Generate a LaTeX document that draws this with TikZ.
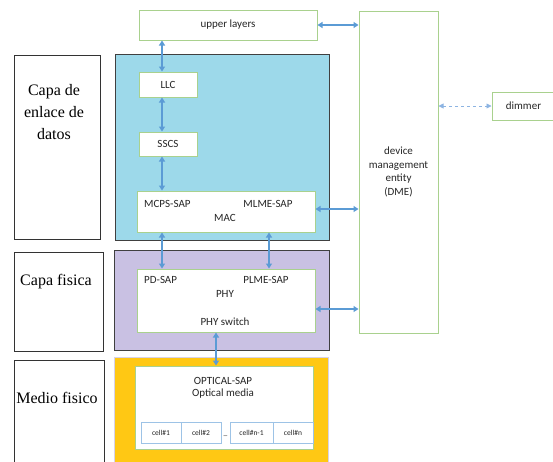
\documentclass[tikz,border=0pt]{standalone}
\usepackage{fontspec}
\setmainfont{Carlito}
\newfontfamily\capafont{Liberation Serif}
\usetikzlibrary{arrows.meta,positioning}

\definecolor{grnline}{HTML}{A9D18E}
\definecolor{arrblue}{HTML}{5B9BD5}
\definecolor{dashblue}{HTML}{8DB4E2}
\definecolor{cellline}{HTML}{9DC3E6}
\definecolor{dllfill}{HTML}{9DD9EA}
\definecolor{phyfill}{HTML}{C9C1E3}
\definecolor{medfill}{HTML}{FFC814}
\definecolor{medline}{HTML}{D6D2EA}
\definecolor{txtgray}{HTML}{262626}

\begin{document}
\begin{tikzpicture}[x=1pt, y=-1pt,
    caja/.style={draw=grnline, fill=white, line width=1pt, inner sep=0pt, align=center,
      text=txtgray, font=\fontsize{11}{13.5}\selectfont},
    capa/.style={draw=black!80, fill=white, line width=0.8pt, inner sep=0pt},
    capatxt/.style={align=center, font=\capafont\fontsize{16}{22}\selectfont},
    layer/.style={draw=black!75, line width=1pt, inner sep=0pt},
    txt/.style={inner sep=0pt, text=txtgray, font=\fontsize{11}{13.5}\selectfont},
    cell/.style={draw=cellline, fill=white, line width=1pt, inner sep=0pt,
      minimum width=40pt, minimum height=21pt, text=txtgray, font=\fontsize{7.5}{9}\selectfont},
    arr/.style={{Triangle[length=5pt,width=6pt]}-{Triangle[length=5pt,width=6pt]}, draw=arrblue, line width=1.6pt},
    darr/.style={{Triangle[length=5pt,width=5pt]}-{Triangle[length=5pt,width=5pt]}, draw=dashblue, line width=0.8pt, dashed}]
    \useasboundingbox (0,0) rectangle (553,461);

    % left column
    \node[capa, minimum width=86pt, minimum height=184pt] (capa1) at (57,147) {};
    \node[capa, minimum width=89pt, minimum height=99pt] (capa2) at (58.5,301.5) {};
    \node[capa, minimum width=90pt, minimum height=112pt] (capa3) at (59,416) {};
    \node[capatxt] (t1) at (54,112) {Capa de\\enlace de\\datos};
    \node[capatxt] (t2) at (56,282) {Capa fisica};
    \node[capatxt] (t3) at (57,398) {Medio fisico};

    % layers
    \node[layer, fill=dllfill, minimum width=214pt, minimum height=186pt] (dll) at (222,147) {};
    \node[layer, fill=phyfill, minimum width=215pt, minimum height=100pt] (phyl) at (221.5,300) {};
    \node[layer, draw=medline, fill=medfill, minimum width=214pt, minimum height=113pt] (med) at (221,413.5) {};

    % boxes
    \node[caja, minimum width=178pt, minimum height=30pt] (up) at (228,25) {upper layers};
    \node[caja, minimum width=58pt, minimum height=25pt] (llc) at (168,84.5) {LLC};
    \node[caja, minimum width=58pt, minimum height=24pt] (sscs) at (168,144) {SSCS};
    \node[caja, minimum width=178pt, minimum height=41pt] (mac) at (226,211.5) {};
    \node[caja, minimum width=178pt, minimum height=63pt] (phy) at (226,300.5) {};
    \node[caja, minimum width=178pt, minimum height=83pt] (opt) at (224,407.5) {};
    \node[caja, minimum width=79pt, minimum height=322pt] (dme) at (398.5,172) {device\\management\\entity\\(DME)};
    \node[caja, minimum width=63pt, minimum height=28pt] (dim) at (523.5,106) {dimmer};

    % texts in MAC / PHY / optical
    \node[txt, anchor=west] (mcps) at (144,204) {MCPS-SAP};
    \node[txt] (mlme) at (268,204) {MLME-SAP};
    \node[txt] (mact) at (225,218) {MAC};
    \node[txt, anchor=west] (pdsap) at (144,280) {PD-SAP};
    \node[txt] (plme) at (266,280) {PLME-SAP};
    \node[txt] (phyt) at (225,294) {PHY};
    \node[txt] (physw) at (225,322) {PHY switch};
    \node[txt] (osap) at (223,381) {OPTICAL-SAP};
    \node[txt] (omed) at (223,394) {Optical media};

    % cells
    \node[cell] (c1) at (161,432.5) {cell\#1};
    \node[cell] (c2) at (201,432.5) {cell\#2};
    \node[cell, minimum width=43pt] (cn1) at (251.5,432.5) {cell\#n-1};
    \node[cell] (cn) at (293,432.5) {cell\#n};
    \node[txt, font=\fontsize{7.5}{9}\selectfont] (dots) at (225.5,436) {\_};

    % arrows
    \draw[arr] (up.south -| 162,0) -- (llc.north -| 162,0);
    \draw[arr] (llc.south -| 162,0) -- (sscs.north -| 162,0);
    \draw[arr] (sscs.south -| 162,0) -- (mac.north -| 162,0);
    \draw[arr] (mac.south -| 162,0) -- (phy.north -| 162,0);
    \draw[arr] (mac.south -| 269,0) -- (phy.north -| 269,0);
    \draw[arr] (phy.south -| 216,0) -- (opt.north -| 216,0);
    \draw[arr] (up.east) -- (up.east -| dme.west);
    \draw[arr] (mac.east |- 0,209) -- (dme.west |- 0,209);
    \draw[arr] (phy.east |- 0,309) -- (dme.west |- 0,309);
    \draw[darr] (dme.east |- dim.west) -- (dim.west);
\end{tikzpicture}
\end{document}
